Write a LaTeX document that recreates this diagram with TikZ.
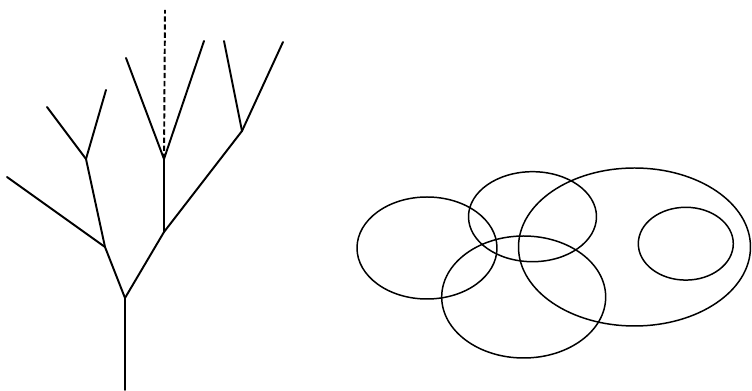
\documentclass[tikz,border=0pt]{standalone}
\usepackage{tikz}
\usetikzlibrary{positioning}

\begin{document}
\begin{tikzpicture}[
  x=0.02cm, y=-0.02cm,
  branch/.style={line width=1.1pt, line cap=round, line join=round},
  stub/.style={line width=1.1pt, dashed, dash pattern=on 3pt off 1.6pt},
  blob/.style={line width=0.85pt}
]
\useasboundingbox (0,0) rectangle (752,391);

% Tree points.
\coordinate (foot) at (125,390);
\coordinate (fork) at (125,298);
\coordinate (lnode) at (105,247);
\coordinate (lleaf) at (7,177);
\coordinate (bnode) at (86,159);
\coordinate (bleft) at (47,107);
\coordinate (bright) at (106,90);
\coordinate (rnode) at (164,232);
\coordinate (dnode) at (164,159);
\coordinate (dleft) at (126,58);
\coordinate (dright) at (204,41);
\coordinate (dtop) at (165,10);
\coordinate (enode) at (242,131);
\coordinate (eleft) at (224,41);
\coordinate (eright) at (283,42);

% Tree branches.
\draw[branch] (foot) -- (fork);
\draw[branch] (fork) -- (lnode);
\draw[branch] (lnode) -- (lleaf);
\draw[branch] (lnode) -- (bnode);
\draw[branch] (bnode) -- (bleft);
\draw[branch] (bnode) -- (bright);
\draw[branch] (fork) -- (rnode);
\draw[branch] (rnode) -- (dnode);
\draw[branch] (dnode) -- (dleft);
\draw[branch] (dnode) -- (dright);
\draw[stub] (dnode) -- (dtop);
\draw[branch] (rnode) -- (enode);
\draw[branch] (enode) -- (eleft);
\draw[branch] (enode) -- (eright);

% Overlapping sets.
\draw[blob] (427,248) ellipse [x radius=70, y radius=51];
\draw[blob] (532.5,216.7) ellipse [x radius=64, y radius=45];
\draw[blob] (523.7,297) ellipse [x radius=82, y radius=61];
\draw[blob] (634.5,247) ellipse [x radius=116, y radius=79];
\draw[blob] (685.8,243.7) ellipse [x radius=47.5, y radius=36.4];
\end{tikzpicture}
\end{document}
